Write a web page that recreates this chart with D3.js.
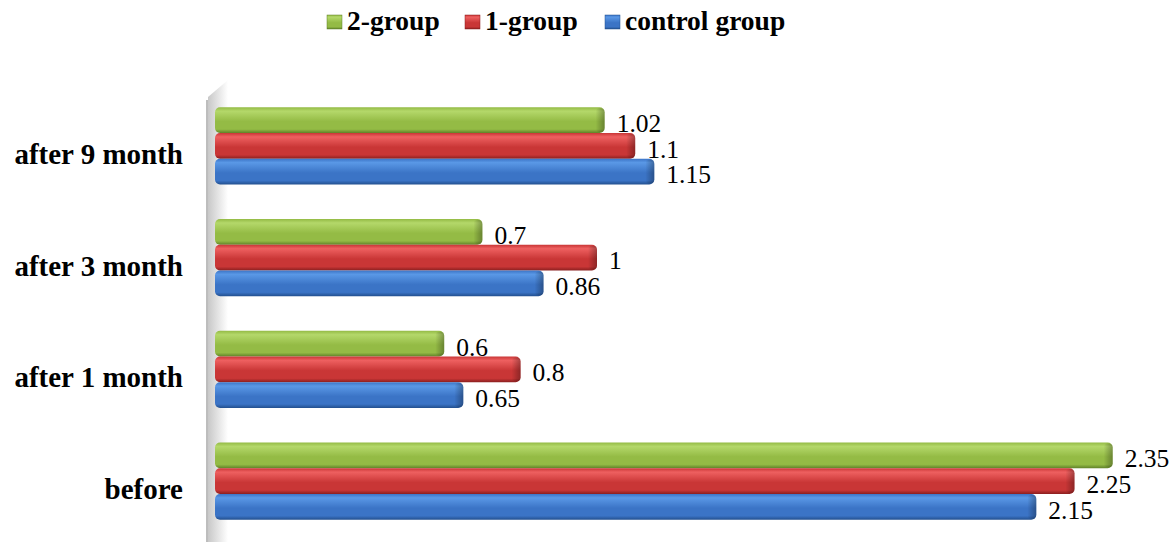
<!DOCTYPE html>
<html><head><meta charset="utf-8">
<script src="https://cdn.jsdelivr.net/npm/d3@7"></script>
<style>body{margin:0;background:#fff}svg{display:block}</style>
</head><body>
<svg id="c" width="1172" height="542"></svg>
<script>
const categories = ["after 9 month", "after 3 month", "after 1 month", "before"];
const seriesNames = ["2-group", "1-group", "control group"];
const group2 = [1.02, 0.7, 0.6, 2.35];
const group1 = [1.1, 1, 0.8, 2.25];
const control = [1.15, 0.86, 0.65, 2.15];
const seriesValues = [group2, group1, control];
const palette = [
  {top:"#b4d86a", mid:"#94bb45", bot:"#5f8128"},
  {top:"#ee6060", mid:"#c93636", bot:"#8a1f1f"},
  {top:"#5a98e6", mid:"#3b74c6", bot:"#23508f"}
];

const svg = d3.select("#c");
const defs = svg.append("defs");
palette.forEach((p,i)=>{
  const g = defs.append("linearGradient").attr("id","g"+i).attr("x1",0).attr("y1",0).attr("x2",0).attr("y2",1);
  g.append("stop").attr("offset","0%").attr("stop-color",p.mid);
  g.append("stop").attr("offset","15%").attr("stop-color",p.top);
  g.append("stop").attr("offset","55%").attr("stop-color",p.mid);
  g.append("stop").attr("offset","85%").attr("stop-color",p.mid);
  g.append("stop").attr("offset","100%").attr("stop-color",p.bot);
});
const cap = defs.append("linearGradient").attr("id","cap").attr("x1",0).attr("y1",0).attr("x2",1).attr("y2",0);
cap.append("stop").attr("offset","0%").attr("stop-color","#000").attr("stop-opacity",0);
cap.append("stop").attr("offset","100%").attr("stop-color","#000").attr("stop-opacity",0.3);
const wall = defs.append("linearGradient").attr("id","wall").attr("x1",0).attr("y1",0).attr("x2",1).attr("y2",0);
wall.append("stop").attr("offset","0%").attr("stop-color","#c8c8c8");
wall.append("stop").attr("offset","100%").attr("stop-color","#ffffff");

const x = d3.scaleLinear().domain([0, 2.5]).range([215, 1170]);
const y = d3.scaleBand().domain(categories).range([90, 537]).paddingInner(0.31).paddingOuter(0.155);
const ys = d3.scaleBand().domain(seriesNames).range([0, y.bandwidth()]);

// side wall
svg.append("polygon").attr("points","208,97 228,80 228,542 208,542").attr("fill","url(#wall)");
svg.append("line").attr("x1",207).attr("x2",207).attr("y1",100).attr("y2",542).attr("stroke","#bdbdbd").attr("stroke-width",2);

const font = "'Liberation Serif','Times New Roman',serif";

categories.forEach((c,ci)=>{
  seriesNames.forEach((s,si)=>{
    const v = seriesValues[si][ci];
    const y0 = y(c) + ys(s), h = ys.bandwidth();
    const x0 = x(0), x1 = x(v);
    svg.append("rect").attr("x",x0).attr("y",y0).attr("width",x1-x0).attr("height",h)
      .attr("rx",5).attr("fill","url(#g"+si+")");
    svg.append("rect").attr("x",x1-9).attr("y",y0+1).attr("width",9).attr("height",h-2)
      .attr("rx",4).attr("fill","url(#cap)");
    svg.append("text").attr("x",x1+12).attr("y",y0+h-1)
      .attr("font-family",font).attr("font-size",25.5).attr("fill","#000").text(v);
  });
  svg.append("text").attr("x",183).attr("y",y(c)+y.bandwidth()/2+18)
    .attr("text-anchor","end").attr("font-family",font).attr("font-weight","bold")
    .attr("font-size",29).attr("fill","#000").text(c);
});

// legend
const legX = [327, 465, 605];
seriesNames.forEach((s,si)=>{
  svg.append("rect").attr("x",legX[si]).attr("y",15).attr("width",15).attr("height",14)
    .attr("fill","url(#g"+si+")").attr("stroke",palette[si].bot).attr("stroke-width",0.5);
  svg.append("text").attr("x",legX[si]+20).attr("y",30).attr("font-family",font)
    .attr("font-weight","bold").attr("font-size",27.5).attr("fill","#000").text(s);
});
</script>
</body></html>
